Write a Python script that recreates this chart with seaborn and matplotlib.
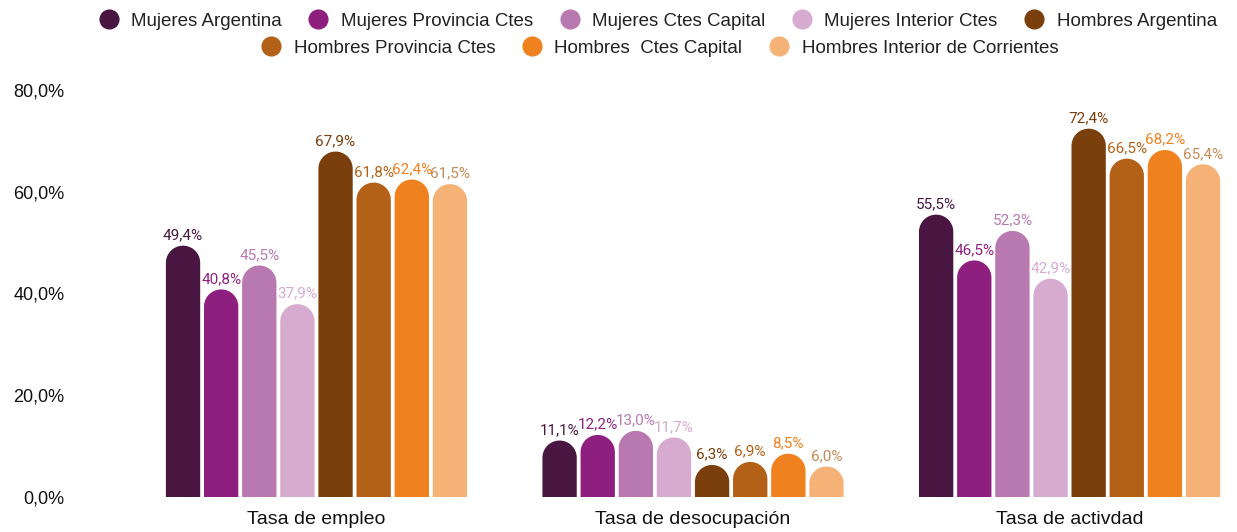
import numpy as np
import pandas as pd
import matplotlib
matplotlib.use("Agg")
import matplotlib.pyplot as plt
import seaborn as sns
from matplotlib.path import Path
from matplotlib.patches import PathPatch
from matplotlib.lines import Line2D
from matplotlib.ticker import FuncFormatter

categories = ["Tasa de empleo", "Tasa de desocupación", "Tasa de activdad"]
series = ["Mujeres Argentina", "Mujeres Provincia Ctes", "Mujeres Ctes Capital",
          "Mujeres Interior Ctes", "Hombres Argentina", "Hombres Provincia Ctes",
          "Hombres  Ctes Capital", "Hombres Interior de Corrientes"]
mujeres_argentina = [49.4, 11.1, 55.5]
mujeres_provincia = [40.8, 12.2, 46.5]
mujeres_capital = [45.5, 13.0, 52.3]
mujeres_interior = [37.9, 11.7, 42.9]
hombres_argentina = [67.9, 6.3, 72.4]
hombres_provincia = [61.8, 6.9, 66.5]
hombres_capital = [62.4, 8.5, 68.2]
hombres_interior = [61.5, 6.0, 65.4]
values = [mujeres_argentina, mujeres_provincia, mujeres_capital, mujeres_interior,
          hombres_argentina, hombres_provincia, hombres_capital, hombres_interior]
yticks = [0, 20, 40, 60, 80]

colors = ["#481640", "#8e1f7e", "#b879b0", "#d7aad0",
          "#7a3f0d", "#b36116", "#ef811f", "#f4b276"]
label_colors = ["#481640", "#8e1f7e", "#b879b0", "#d7aad0",
                "#7a3f0d", "#b36116", "#ef811f", "#c68a55"]

rows = []
for s, vals in zip(series, values):
    for c, v in zip(categories, vals):
        rows.append({"indicador": c, "grupo": s, "valor": v})
df = pd.DataFrame(rows)

sns.set_style("white")
plt.rcParams["font.family"] = ["Liberation Sans", "DejaVu Sans"]

W, H = 1237, 532
fig = plt.figure(figsize=(W / 100, H / 100), dpi=100)
ax = fig.add_axes([80 / W, (H - 497) / H, 1150 / W, 407 / H])

sns.barplot(data=df, x="indicador", y="valor", hue="grupo", order=categories,
            hue_order=series, palette=colors, saturation=1, width=0.81, gap=0.1,
            legend=False, ax=ax, errorbar=None)

ax.set_xlim(-0.628, 2.426)
ax.set_ylim(0, 80)

# scale between data units for rounded caps
p0 = ax.transData.transform((0, 0))
p1 = ax.transData.transform((1, 1))
px_x = p1[0] - p0[0]
px_y = p1[1] - p0[1]

for ci, cont in enumerate(ax.containers):
    for patch in cont.patches:
        x0 = patch.get_x()
        w = patch.get_width()
        h = patch.get_height()
        rx = w / 2
        ry = rx * px_x / px_y
        xc = x0 + rx
        th = np.linspace(np.pi, 0, 40)
        verts = [(x0, 0), (x0, h - ry)]
        verts += [(xc + rx * np.cos(t), h - ry + ry * np.sin(t)) for t in th]
        verts += [(x0 + w, 0), (x0, 0)]
        codes = [Path.MOVETO] + [Path.LINETO] * (len(verts) - 2) + [Path.CLOSEPOLY]
        pp = PathPatch(Path(verts, codes), facecolor=patch.get_facecolor(),
                       edgecolor="none", lw=0)
        patch.set_visible(False)
        ax.add_patch(pp)
        ax.annotate(f"{h:.1f}%".replace(".", ","), (xc, h), xytext=(0, 2.5),
                    textcoords="offset points", ha="center", va="bottom",
                    fontsize=11, color=label_colors[ci], family="Roboto",
                    annotation_clip=False)

ax.set_yticks(yticks)
ax.yaxis.set_major_formatter(FuncFormatter(lambda v, p: f"{v:.1f}%".replace(".", ",")))
ax.tick_params(axis="y", length=0, pad=11, labelsize=13, labelcolor="#111111")
ax.tick_params(axis="x", length=0, pad=10, labelsize=14, labelcolor="#111111")
ax.set_xlabel("")
ax.set_ylabel("")
for sp in ax.spines.values():
    sp.set_visible(False)
ax.grid(False)

def handles(idx):
    return [Line2D([0], [0], marker="o", linestyle="none", markersize=13.5,
                   markerfacecolor=colors[i], markeredgecolor=colors[i]) for i in idx]

leg_kw = dict(frameon=False, fontsize=13.5, handlelength=1.0, handletextpad=0.7,
              columnspacing=1.45, borderaxespad=0, borderpad=0, labelcolor="#222222")
leg1 = fig.legend(handles(range(5)), series[:5], ncol=5, loc="center",
                  bbox_to_anchor=(658 / W, 1 - 21 / H), **leg_kw)
leg2 = fig.legend(handles(range(5, 8)), series[5:], ncol=3, loc="center",
                  bbox_to_anchor=(660 / W, 1 - 48 / H), **leg_kw)

fig.savefig("out.png", dpi=100)
